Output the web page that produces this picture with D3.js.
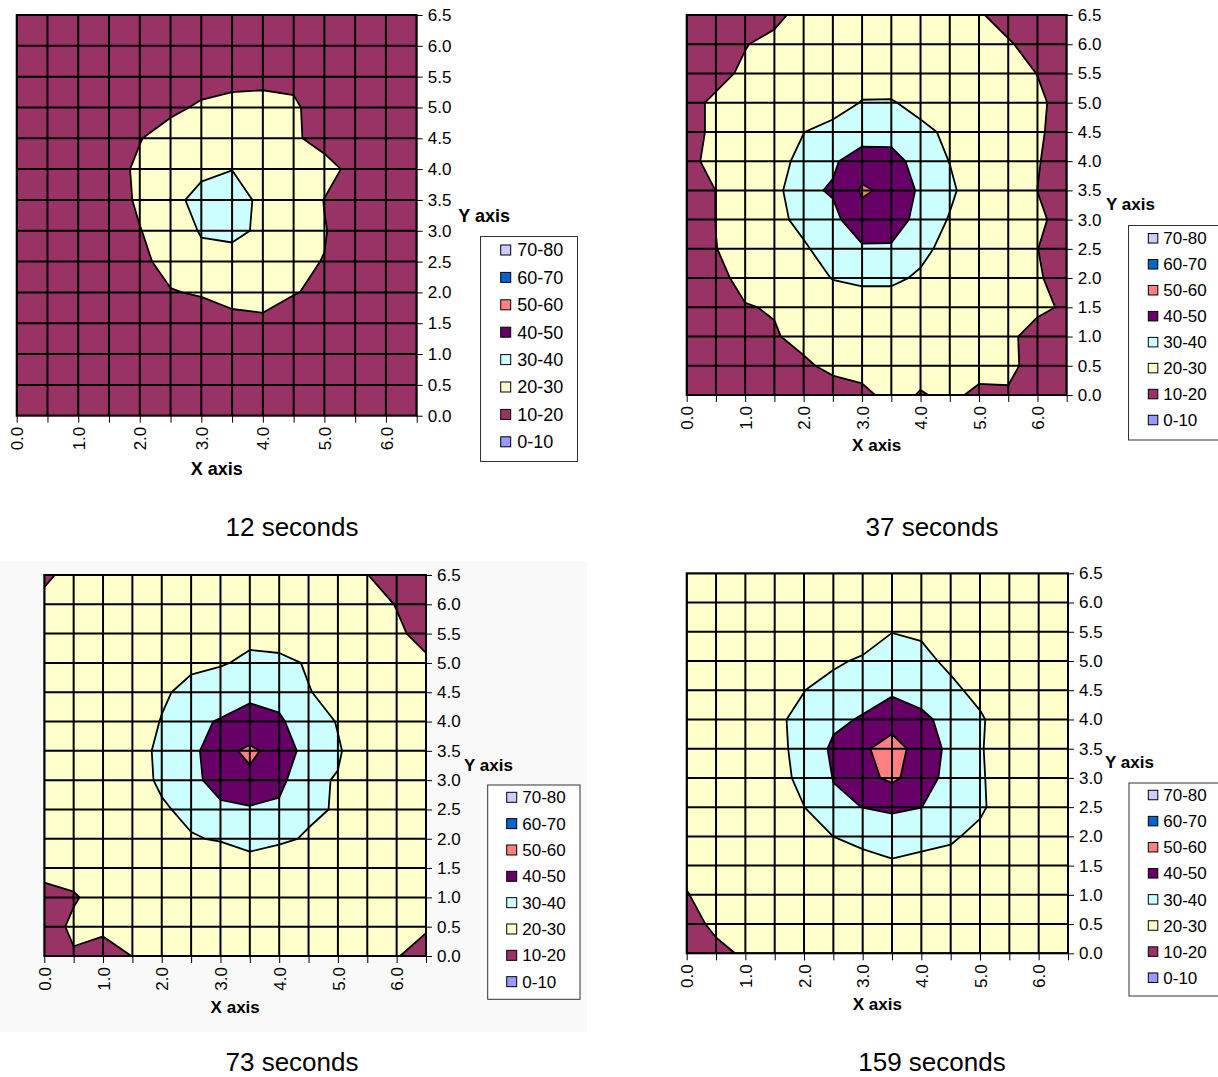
<!DOCTYPE html>
<html><head><meta charset="utf-8">
<script src="https://cdn.jsdelivr.net/npm/d3@7"></script>
<style>
body{margin:0;background:#fff;}
svg{display:block;font-family:Arial,"Liberation Sans",sans-serif;}
</style></head><body>
<svg id="chart" width="1218" height="1077"></svg>
<script>
// ---------- data ----------
const gridX = [0,0.5,1,1.5,2,2.5,3,3.5,4,4.5,5,5.5,6,6.5];
const gridY = [0,0.5,1,1.5,2,2.5,3,3.5,4,4.5,5,5.5,6,6.5];
const xTickLabels = ["0.0","1.0","2.0","3.0","4.0","5.0","6.0"];
const yTickLabels = ["0.0","0.5","1.0","1.5","2.0","2.5","3.0","3.5","4.0","4.5","5.0","5.5","6.0","6.5"];
const bandThresholds = [0,10,20,30,40,50,60,70];
const bandLabels = ["0-10","10-20","20-30","30-40","40-50","50-60","60-70","70-80"];
const bandColors = ["#9999FF","#993366","#FFFFCC","#CCFFFF","#660066","#FF8080","#0066CC","#CCCCFF"];
const captions = ["12 seconds","37 seconds","73 seconds","159 seconds"];

// temperature grids, rows from y=6.5 (top) down to y=0, columns x=0..6.5
const z12 = [
 [15,15,15,15,15,15,15,15,15,15,15,15,15,15],
 [15,15,15,15,15,15,15,15,15,15,15,15,15,15],
 [15,15,15,15,15,15,17,17,17,18.5,15,15,15,15],
 [15,15,15,15,15,18.5,21,23,23.8,21,16.8,15,15,15],
 [15,15,15,15,19.7,23,25,27,26,21.2,17,15,15,15],
 [15,15,15,17.4,21.2,24,27.3,29.75,27,25,23,17.4,15,15],
 [15,15,15,17.2,20.9,26.3,34,36,26.9,24.8,19.8,17,15,15],
 [15,15,15,17,19.8,22.7,31,34,27.1,24,20.3,17,15,15],
 [15,15,15,15,18.8,21.8,26.5,23.5,23,20.8,19.87,16,15,15],
 [15,15,15,15,17,19.7,20.5,23.5,23.9,20.3,18.8,15,15,15],
 [15,15,15,15,15,15,17,17,18,17,15,15,15,15],
 [15,15,15,15,15,15,15,15,15,15,15,15,15,15],
 [15,15,15,15,15,15,15,15,15,15,15,15,15,15],
 [15,15,15,15,15,15,15,15,15,15,15,15,15,15]
];
const z37 = [
 [15,15,15,17,24,25,25,25,25,25,21,16,15,15],
 [15,15,19.5,23.1,25,25,25,25,25,25,24,21,16,15],
 [15,17,21.8,25,25,25,24.6,22.7,25,25,25,22,19.9,16],
 [17,21.8,25,25,25,24.6,30.6,31,26,25,25,25,21,18],
 [17,21.8,25,25,29.8,34,34.3,35.7,33,27.6,25,25,21,17],
 [18,22.3,25,26.2,33,38.5,45.7,44,35.7,29.76,25,25,20.5,16],
 [15,20.1,25,26.6,37.9,41,51.2,48,38.2,32,23.7,24,19.95,15],
 [15,20.1,25,27,33,37.4,46.6,45,36.7,29.26,25,25,21,18],
 [15,19.9,22,25,28.6,35,38.55,38.75,34,24.9,25,25,20.1,16],
 [15,17,23.25,24,24.25,30.5,33,33,27.8,25,25,25,21,16],
 [15,15,19.4,20.8,24,22,22.3,22.3,25,25,25,24,22,18.7],
 [15,15,15,19,23.5,25,25,25,25,25,25,22,16.1,15],
 [15,15,15,16,18,23,23,24,22.4,24,22.3,21.8,17,15],
 [15,15,15,15,15,14,18,22.5,19.5,21.4,18.6,19.1,15,15]
];
const z73 = [
 [19,21.8,25,25,25,25,25,25,25,25,25,20.1,17,15],
 [21.4,25,25,25,25,25,25,25,25,25,25,22,19.8,16],
 [25,25,25,25,25,25,25,27.5,26.1,25,25,25,20.8,18.45],
 [25,25,25,25,25,28,29.1,32,32,29.3,25,25,25,20.8],
 [25,25,25,25,28.5,33,36.3,38.8,37.7,30.3,27.8,25,25,25],
 [25,25,25,24.25,30.5,38.5,40.5,42,41,36,29.33,25,25,25],
 [25,25,25,24.2,33,37,47,52,46.1,35.9,31,23.9,25,25],
 [25,25,25,24.9,32,36.7,45,47.8,43,31.5,29.5,25,25,25],
 [25,25,25,25,28.5,33,37.6,38.9,38,32,29.06,25,25,25],
 [25,25,25,25,25,29.1,31,34,32,28.8,25,25,25,25],
 [23,24,25,25,25,25,21,24.9,22,25,25,25,25,25],
 [17,19,24,25,25,25,25,25,25,25,25,25,25,25],
 [15,22,21.5,25,25,25,25,25,25,25,25,25,25,20.56],
 [15,19,17,20.1,25,25,25,25,25,25,25,25,20.27,18]
];
const z159 = [
 [25,25,25,25,25,25,25,25,25,25,25,25,25,25],
 [25,25,25,25,25,25,25,25,25,25,25,25,25,25],
 [25,25,25,25,25,25,22,29.8,29.06,25,25,25,25,25],
 [25,25,25,25,25,27.8,32,35,32,28.4,25,25,25,25],
 [25,25,25,25,29.8,35,35.4,38.6,36.4,31.7,27.8,25,25,25],
 [25,25,25,28.3,32.5,37.7,41,45,42,37,31,25.4,25,25],
 [25,25,25,28.3,32,42,48.2,55,45,37.9,31,23,25,25],
 [25,25,25,27.2,32,40.3,47,52,44.9,36.45,31,25.4,25,25],
 [25,25,25,25,29.9,38.4,40.1,40.9,40.1,36,31,26.5,25,25],
 [25,25,25,25,25,30.05,35,36.8,35,30.8,28.5,25,25,25],
 [22.6,25,25,25,25,25,23.6,27.85,25.4,28,25,25,25,25],
 [19.5,24.5,25,25,25,25,25,25,25,25,25,25,25,25],
 [17,21.7,25,25,25,25,25,25,25,25,25,25,25,25],
 [15,18,21.1,25,25,25,25,25,25,25,25,25,25,25]
];
const grids = [z12, z37, z73, z159];

// ---------- layout ----------
const layout = [
 {left:16.7, top:15, w:400, h:400.7, tickFont:17, axisFont:18,
  legend:{x:480.5, y:236.5, w:97, h:225, sqX:500.7, sq:10, textX:517.3, row0:250, step:27.4, font:18},
  yLab:{x:458.3, y:221.5}, xLab:{x:216.7, y:475}, cap:{x:292, y:536}},
 {left:686.7, top:15, w:380, h:380, tickFont:17, axisFont:17,
  legend:{x:1128.5, y:225.5, w:100, h:214.5, sqX:1148.3, sq:9.5, textX:1163.3, row0:238.3, step:25.96, font:17},
  yLab:{x:1106, y:210}, xLab:{x:876.7, y:451}, cap:{x:932, y:536}},
 {left:44.3, top:575, w:381.7, h:381, tickFont:17, axisFont:17, bg:{x:0, y:561, w:587, h:471},
  legend:{x:487.7, y:785, w:92.3, h:214.3, sqX:506.7, sq:10, textX:522.3, row0:797.3, step:26.34, font:17},
  yLab:{x:464, y:771}, xLab:{x:235.2, y:1012.7}, cap:{x:292, y:1071}},
 {left:686.7, top:573.3, w:381.3, h:380, tickFont:17, axisFont:17,
  legend:{x:1129, y:783, w:100, h:213, sqX:1148.3, sq:9.5, textX:1163.3, row0:795, step:26.1, font:17},
  yLab:{x:1105, y:768}, xLab:{x:877.3, y:1010}, cap:{x:932, y:1071}}
];

const svg = d3.select("#chart");
const colorOf = d3.scaleOrdinal().domain(bandThresholds).range(bandColors);

layout.forEach((cfg, k) => {
  const grid = grids[k];
  const g = svg.append("g");
  if (cfg.bg) g.append("rect").attr("x",cfg.bg.x).attr("y",cfg.bg.y).attr("width",cfg.bg.w).attr("height",cfg.bg.h).attr("fill","#f9f9f9");

  const x = d3.scaleLinear().domain([gridX[0], gridX[gridX.length-1]]).range([cfg.left, cfg.left+cfg.w]);
  const y = d3.scaleLinear().domain([gridY[0], gridY[gridY.length-1]]).range([cfg.top+cfg.h, cfg.top]);
  const n = gridX.length, m = gridY.length;
  const values = [];
  for (let j = 0; j < m; j++) { const row = grid[m-1-j]; for (let i = 0; i < n; i++) values.push(row[i]); }
  // contour grid coords -> data -> pixels
  const gx = d3.scaleLinear().domain([0.5, n-0.5]).range([x(gridX[0]), x(gridX[n-1])]);
  const gy = d3.scaleLinear().domain([0.5, m-0.5]).range([y(gridY[0]), y(gridY[m-1])]);
  const path = d3.geoPath(d3.geoTransform({point(px, py){ this.stream.point(gx(px), gy(py)); }}));
  const contours = d3.contours().size([n, m]).thresholds(bandThresholds)(values);

  const clipId = "clip" + k;
  g.append("clipPath").attr("id", clipId).append("rect")
    .attr("x", cfg.left).attr("y", cfg.top).attr("width", cfg.w).attr("height", cfg.h);
  const plot = g.append("g").attr("clip-path", `url(#${clipId})`);
  plot.selectAll("path.band").data(contours.filter(c => c.coordinates.length)).join("path")
    .attr("class","band")
    .attr("d", path)
    .attr("fill", d => colorOf(d.value))
    .attr("stroke", "#000").attr("stroke-width", 1.8).attr("stroke-linejoin","round");

  // grid lines
  plot.selectAll("line.vx").data(gridX).join("line").attr("class","vx")
    .attr("x1", d => x(d)).attr("x2", d => x(d)).attr("y1", cfg.top).attr("y2", cfg.top+cfg.h)
    .attr("stroke","#000").attr("stroke-width",2);
  plot.selectAll("line.hy").data(gridY).join("line").attr("class","hy")
    .attr("y1", d => y(d)).attr("y2", d => y(d)).attr("x1", cfg.left).attr("x2", cfg.left+cfg.w)
    .attr("stroke","#000").attr("stroke-width",2);
  g.append("rect").attr("x",cfg.left).attr("y",cfg.top).attr("width",cfg.w).attr("height",cfg.h)
    .attr("fill","none").attr("stroke","#000").attr("stroke-width",2);

  // y axis (right)
  const ya = g.append("g").attr("transform", `translate(${cfg.left+cfg.w},0)`)
    .call(d3.axisRight(y).tickValues(gridY).tickFormat((d,i) => yTickLabels[i]).tickSize(6).tickSizeOuter(0).tickPadding(5));
  ya.select(".domain").remove();
  ya.selectAll("line").attr("stroke","#000");
  ya.selectAll("text").attr("font-size", cfg.tickFont).attr("fill","#000").attr("font-family",'Arial,"Liberation Sans",sans-serif');

  // x axis (bottom), labels at integers, rotated
  const xa = g.append("g").attr("transform", `translate(0,${cfg.top+cfg.h})`)
    .call(d3.axisBottom(x).tickValues(gridX).tickFormat(d => (d % 1 === 0 ? xTickLabels[d] : "")).tickSize(7).tickSizeOuter(0));
  xa.select(".domain").remove();
  xa.selectAll("line").attr("stroke","#000");
  xa.selectAll("text").attr("font-size", cfg.tickFont).attr("fill","#000").attr("font-family",'Arial,"Liberation Sans",sans-serif')
    .attr("transform","rotate(-90)").attr("x",-11).attr("y",0).attr("dy","0.36em").style("text-anchor","end");

  // axis titles
  g.append("text").attr("x", cfg.yLab.x).attr("y", cfg.yLab.y).attr("font-size", cfg.axisFont).attr("font-weight","bold").text("Y axis");
  g.append("text").attr("x", cfg.xLab.x).attr("y", cfg.xLab.y).attr("font-size", cfg.axisFont).attr("font-weight","bold").attr("text-anchor","middle").text("X axis");

  // legend
  const L = cfg.legend;
  g.append("rect").attr("x",L.x).attr("y",L.y).attr("width",L.w).attr("height",L.h).attr("fill","#fff").attr("stroke","#333").attr("stroke-width",1);
  const order = d3.range(bandLabels.length).reverse();
  order.forEach((bi, r) => {
    const cy = L.row0 + r*L.step;
    g.append("rect").attr("x",L.sqX).attr("y",cy-L.sq/2).attr("width",L.sq).attr("height",L.sq)
      .attr("fill",bandColors[bi]).attr("stroke","#000").attr("stroke-width",1);
    g.append("text").attr("x",L.textX).attr("y",cy + 0.36*L.font).attr("font-size",L.font).text(bandLabels[bi]);
  });

  // caption
  g.append("text").attr("x",cfg.cap.x).attr("y",cfg.cap.y).attr("font-size",26).attr("text-anchor","middle").text(captions[k]);
});
</script>
</body></html>
